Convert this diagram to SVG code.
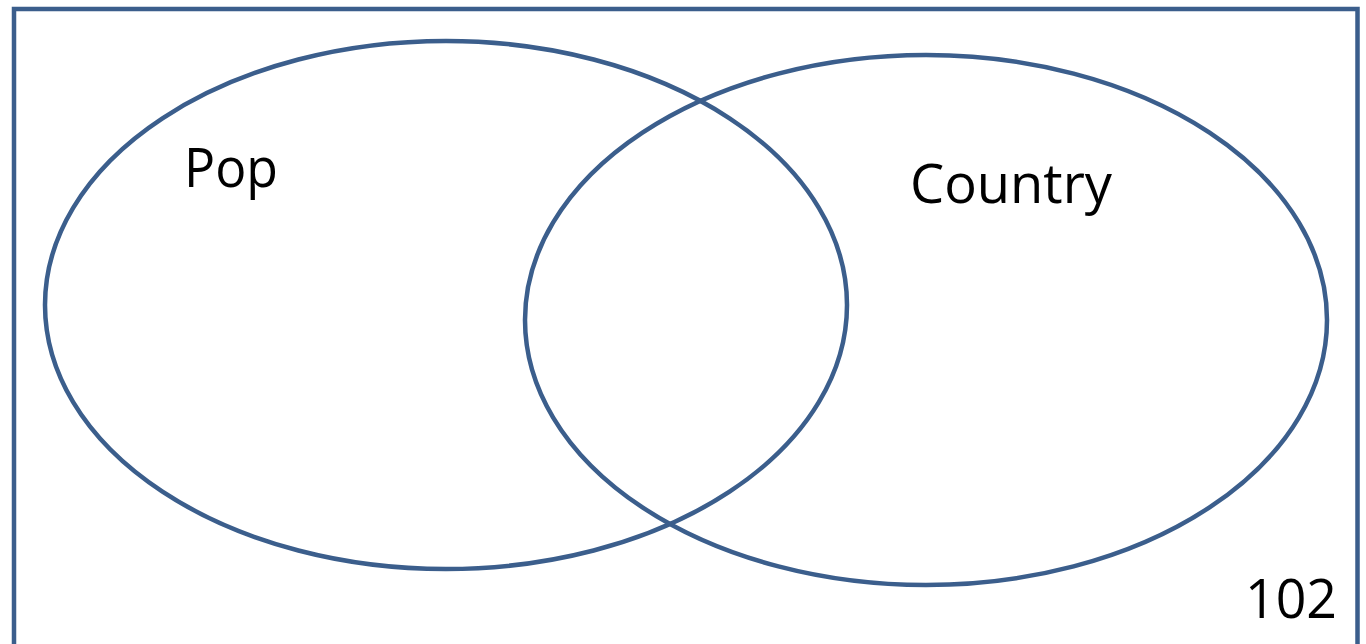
<svg xmlns="http://www.w3.org/2000/svg" width="1366" height="644" viewBox="0 0 1366 644">
<style>
.s{fill:none;stroke:#3B5E8C;stroke-width:4.5}
.t{font-family:"Open Sans","Liberation Sans",sans-serif;font-size:54px;fill:#000}
</style>
<rect width="1366" height="644" fill="#fff"/>
<g id="universe"><rect class="s" x="14" y="9" width="1343.5" height="660"/><text class="t" x="1245" y="618" textLength="92" lengthAdjust="spacingAndGlyphs">102</text></g>
<g id="pop"><ellipse class="s" cx="446" cy="305" rx="401" ry="264"/><text class="t" x="184" y="187" textLength="94" lengthAdjust="spacingAndGlyphs">Pop</text></g>
<g id="country"><ellipse class="s" cx="926" cy="320" rx="401" ry="265"/><text class="t" x="910" y="203" textLength="202" lengthAdjust="spacingAndGlyphs">Country</text></g>
<g id="connectors"/>
</svg>
